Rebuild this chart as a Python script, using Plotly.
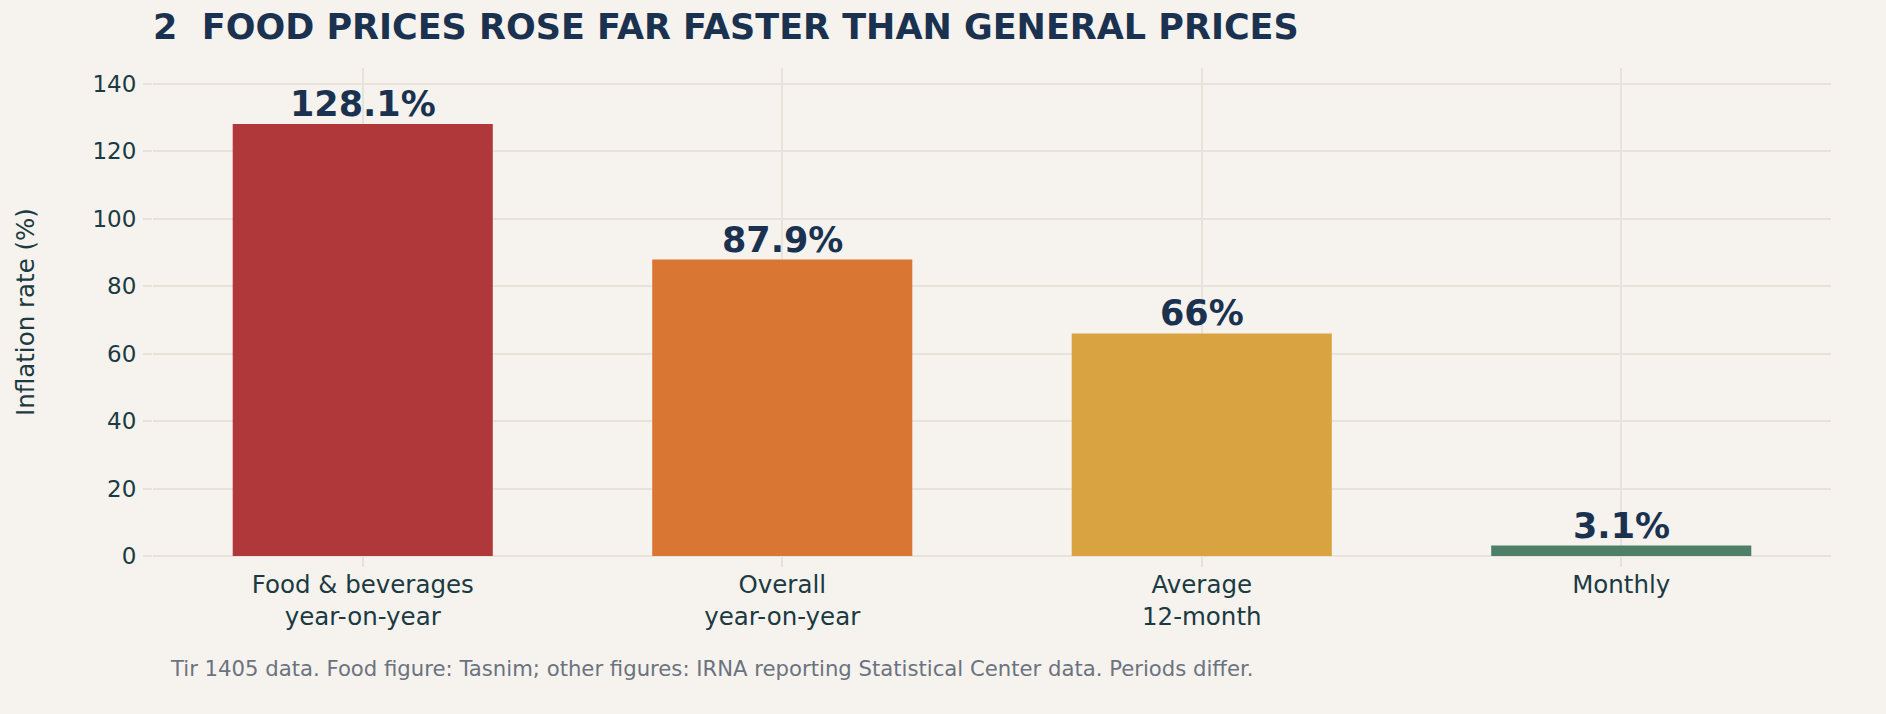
import plotly.graph_objects as go

# 数据
categories = ["Food & beverages<br>year-on-year", "Overall<br>year-on-year",
              "Average<br>12-month", "Monthly"]
values = [128.1, 87.9, 66, 3.1]
labels = ["128.1%", "87.9%", "66%", "3.1%"]
bar_colors = ["#b0373a", "#d97633", "#daa341", "#4e7f67"]
y_ticks = [0, 20, 40, 60, 80, 100, 120, 140]

BG = "#f6f3ee"
GRID = "#e8e3da"
NAVY = "#1a324f"
TICK = "#1b3a42"

fig = go.Figure()
fig.add_trace(go.Bar(
    x=categories, y=values, width=0.62,
    marker=dict(color=bar_colors, line=dict(width=0)),
    hoverinfo="x+y", showlegend=False,
))

# 柱顶数值标签
for cat, val, lab in zip(categories, values, labels):
    fig.add_annotation(
        x=cat, y=val, text=f"<b>{lab}</b>", showarrow=False,
        yanchor="bottom", yshift=-2,
        font=dict(family="DejaVu Sans", size=35, color=NAVY),
    )

fig.update_layout(
    width=1886, height=714,
    paper_bgcolor=BG, plot_bgcolor=BG,
    margin=dict(l=153, r=55, t=68, b=158),
    font=dict(family="DejaVu Sans", color=TICK),
    title=dict(text="<b>2  FOOD PRICES ROSE FAR FASTER THAN GENERAL PRICES</b>",
               font=dict(family="DejaVu Sans", size=35, color=NAVY),
               xref="paper", x=0, xanchor="left",
               yref="container", y=0.9626, yanchor="middle"),
    bargap=0.38,
)

fig.update_xaxes(
    showgrid=True, gridcolor=GRID, gridwidth=1.5,
    ticks="outside", ticklen=10, tickcolor=GRID, tickwidth=1.5,
    tickfont=dict(size=24.5, color=TICK), ticklabelstandoff=-3,
    showline=False, zeroline=False,
)
fig.update_yaxes(
    range=[0, 144.7], tickvals=y_ticks,
    showgrid=True, gridcolor=GRID, gridwidth=1.5,
    zeroline=True, zerolinecolor=GRID, zerolinewidth=1.5,
    ticks="outside", ticklen=9, tickcolor=GRID, tickwidth=1.5,
    tickfont=dict(size=23, color=TICK), ticklabelstandoff=2,
    title=dict(text="Inflation rate (%)", font=dict(size=24.5, color=TICK), standoff=50),
    showline=False,
)

# 脚注
fig.add_annotation(
    text="Tir 1405 data. Food figure: Tasnim; other figures: IRNA reporting Statistical Center data. Periods differ.",
    xref="paper", yref="paper", x=0.0092, y=-0.2305,
    xanchor="left", yanchor="middle", showarrow=False,
    font=dict(size=21.2, color="#6b7280"),
)

# 去掉页面边距，让图表贴齐窗口
fig.write_html("out.html", config={"displayModeBar": False},
               post_script="document.body.style.margin='0';")
